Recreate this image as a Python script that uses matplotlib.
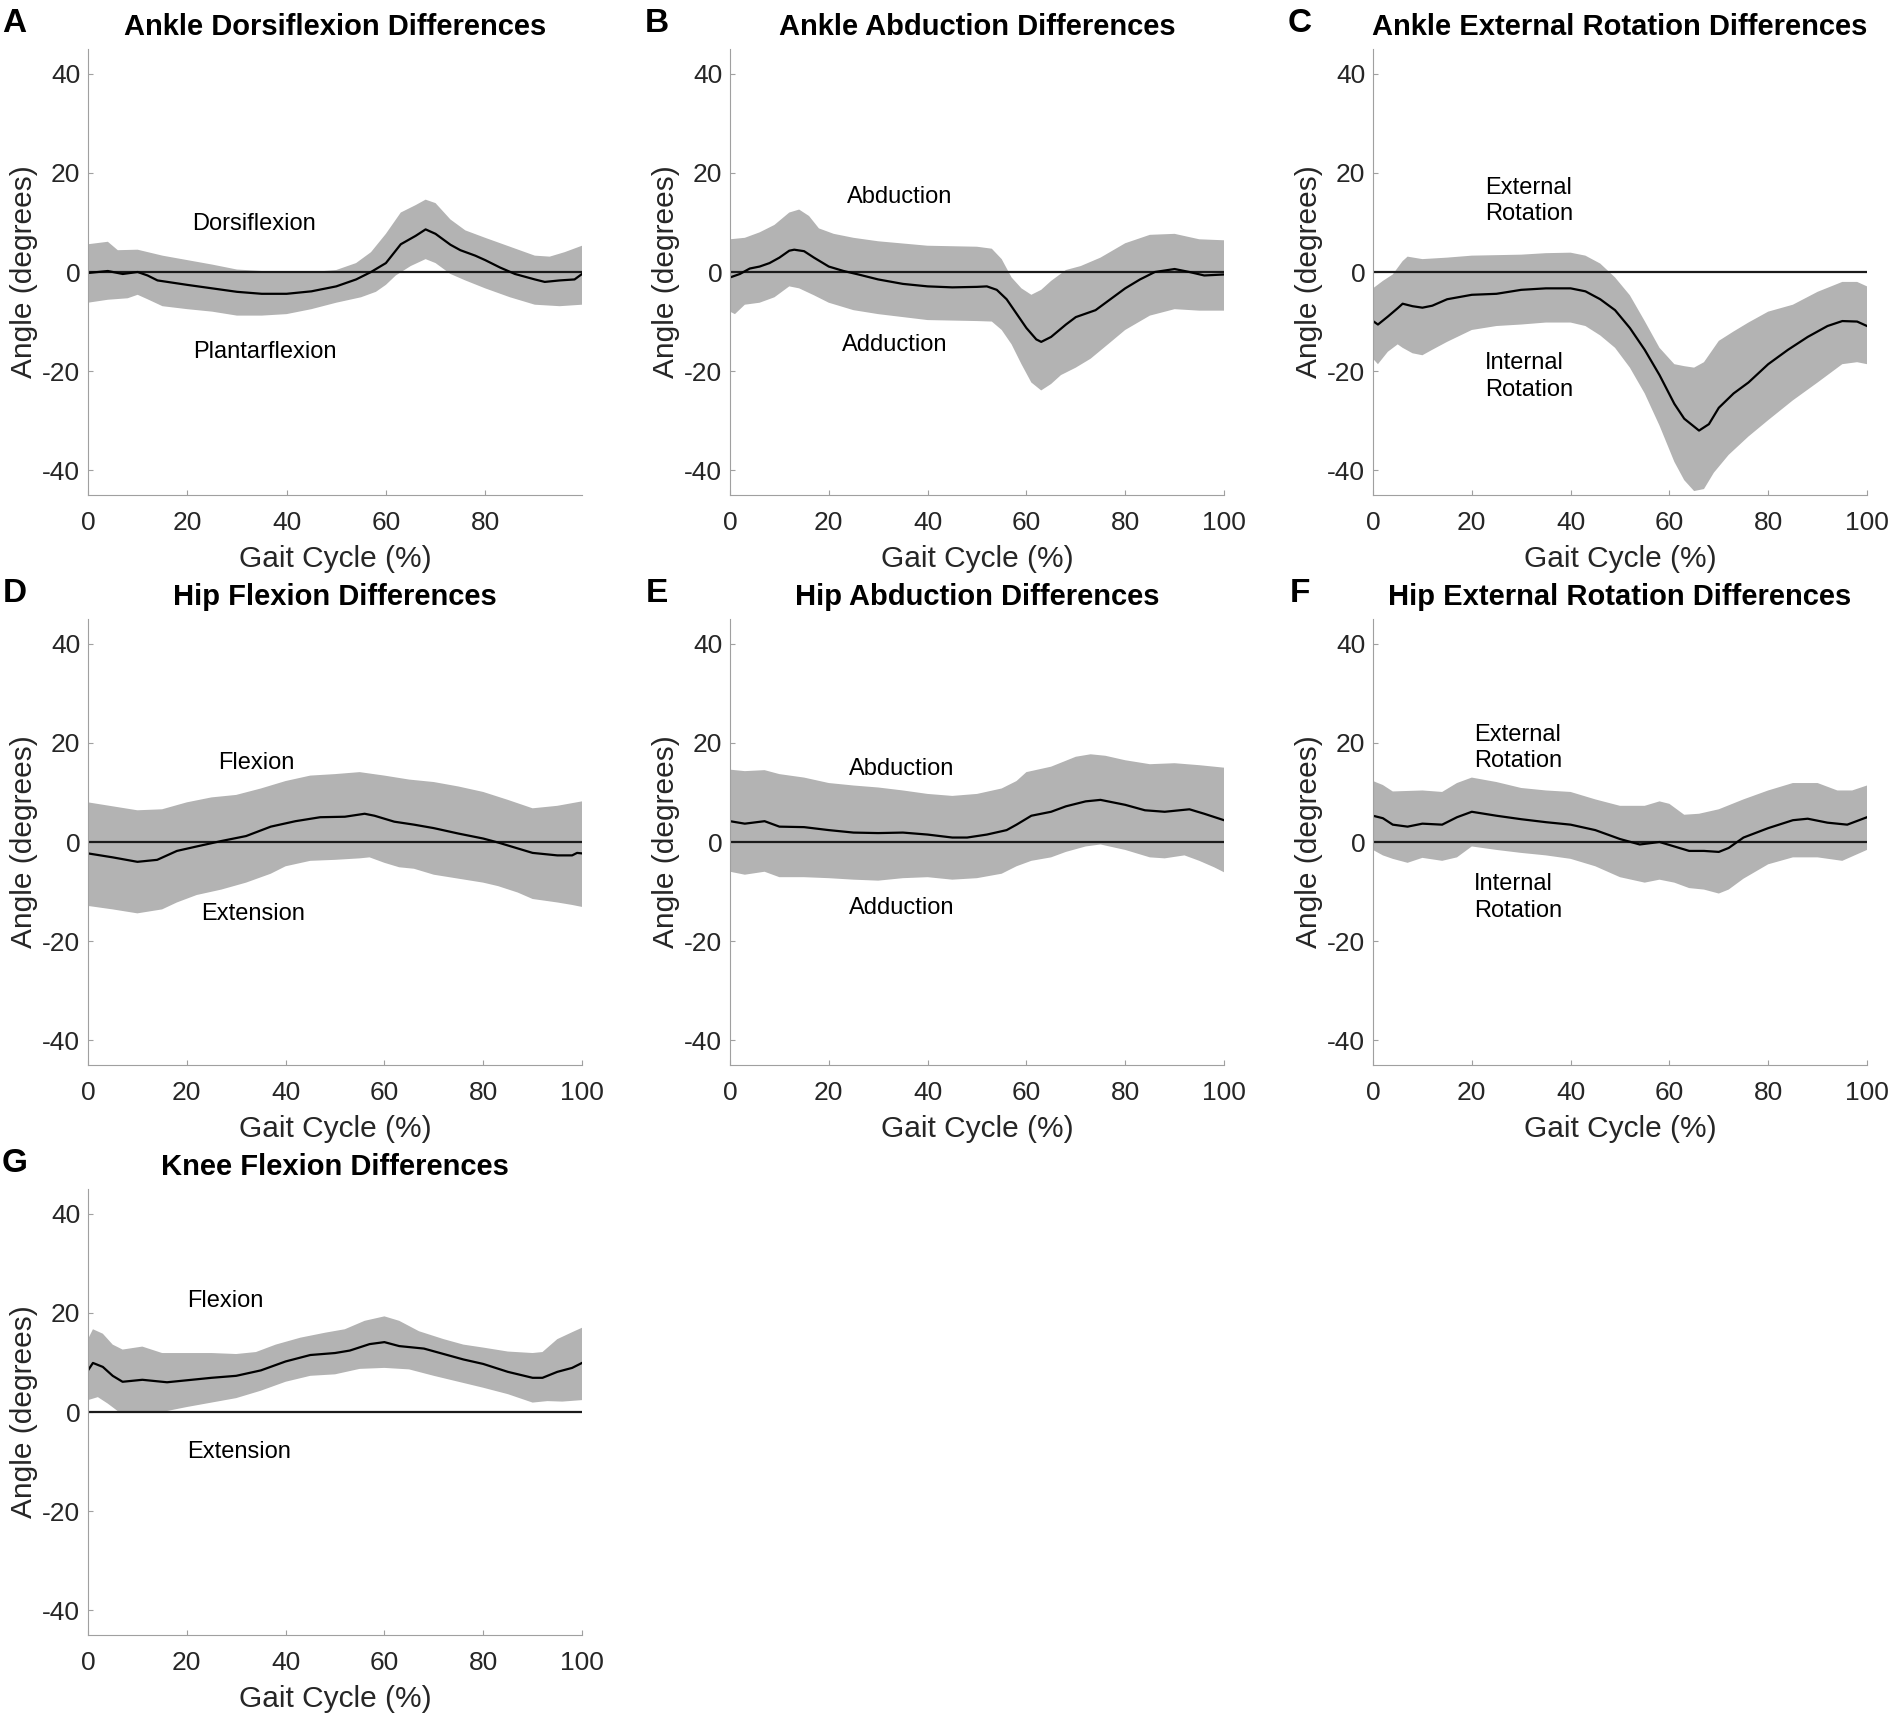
import matplotlib
matplotlib.use("Agg")
import matplotlib.pyplot as plt
import numpy as np

plt.rcParams['font.family'] = ['Liberation Sans', 'DejaVu Sans']
plt.rcParams['axes.unicode_minus'] = False

W, H = 1895, 1718

# ---- data (gait cycle %, degrees) ----
# A  ankle dorsiflexion
a_mean_x = [0, 4, 7, 10, 12, 14, 20, 25, 30, 35, 40, 45, 50, 54, 57, 60, 63, 66, 68, 70, 73, 75, 78, 80, 83, 86, 90, 92, 95, 98, 99.5]
a_mean_y = [-0.2, 0.2, -0.4, 0, -0.7, -1.7, -2.6, -3.3, -4.0, -4.4, -4.4, -3.9, -2.9, -1.5, 0, 1.8, 5.6, 7.3, 8.6, 7.7, 5.5, 4.4, 3.3, 2.4, 0.9, -0.4, -1.5, -2.0, -1.7, -1.5, -0.4]
a_up_x = [0, 4, 6, 10, 15, 20, 25, 30, 35, 40, 45, 50, 54, 57, 60, 63, 66, 68, 70, 73, 76, 80, 85, 90, 93, 96, 99.5]
a_up_y = [5.6, 6.1, 4.4, 4.5, 3.3, 2.4, 1.5, 0.5, 0.2, 0, 0, 0.4, 1.8, 4.0, 7.7, 12.0, 13.5, 14.6, 13.9, 10.6, 8.4, 6.9, 5.1, 3.3, 3.1, 4.0, 5.3]
a_lo_x = [0, 4, 8, 10, 12, 15, 20, 25, 30, 35, 40, 45, 50, 55, 58, 60, 62, 65, 68, 70, 73, 76, 80, 85, 90, 95, 99.5]
a_lo_y = [-6.2, -5.6, -5.3, -4.6, -5.5, -6.9, -7.5, -8.0, -8.8, -8.8, -8.5, -7.5, -6.2, -5.1, -4.0, -2.6, -0.7, 1.2, 2.6, 1.8, -0.4, -1.7, -3.3, -5.1, -6.6, -6.9, -6.6]

# B  ankle abduction
b_mean_x = [0, 2, 4, 6, 8, 10, 12, 13, 15, 17, 20, 23, 26, 30, 35, 40, 45, 50, 52, 54, 56, 58, 60, 62, 63, 65, 68, 70, 74, 77, 80, 83, 86, 90, 93, 96, 100]
b_mean_y = [-1.1, -0.4, 0.7, 1.1, 1.8, 2.9, 4.3, 4.5, 4.2, 2.9, 1.1, 0.2, -0.5, -1.5, -2.4, -2.9, -3.1, -3.0, -2.9, -3.6, -5.5, -8.4, -11.3, -13.6, -14.1, -13.1, -10.6, -9.1, -7.7, -5.5, -3.3, -1.5, 0, 0.6, 0, -0.7, -0.5]
b_up_x = [0, 3, 6, 9, 12, 14, 16, 18, 21, 25, 30, 40, 50, 53, 55, 57, 59, 61, 63, 65, 68, 71, 75, 80, 85, 90, 95, 100]
b_up_y = [6.6, 6.9, 8.0, 9.5, 12.0, 12.6, 11.3, 8.8, 7.7, 6.9, 6.2, 5.3, 5.1, 4.7, 2.6, -1.1, -3.3, -4.6, -3.6, -1.8, 0.4, 1.2, 2.9, 5.8, 7.5, 7.7, 6.6, 6.4]
b_lo_x = [0, 1, 3, 6, 9, 12, 14, 17, 20, 25, 30, 35, 40, 50, 53, 55, 57, 59, 61, 63, 65, 67, 70, 73, 77, 80, 85, 90, 95, 100]
b_lo_y = [-8.0, -8.5, -6.6, -6.2, -5.1, -2.9, -3.3, -4.7, -6.2, -7.7, -8.5, -9.1, -9.7, -9.9, -10.0, -11.7, -14.6, -18.6, -22.3, -23.9, -22.6, -20.8, -19.3, -17.5, -14.2, -11.7, -8.8, -7.5, -7.8, -7.8]

# C  ankle external rotation
c_mean_x = [0, 1, 3, 5, 6, 8, 10, 12, 15, 20, 25, 30, 35, 40, 43, 46, 49, 52, 55, 58, 61, 63, 66, 68, 70, 73, 76, 80, 84, 88, 92, 95, 98, 100]
c_mean_y = [-9.9, -10.6, -9.0, -7.3, -6.4, -6.9, -7.2, -6.8, -5.5, -4.6, -4.4, -3.6, -3.3, -3.3, -3.9, -5.5, -7.7, -11.3, -15.7, -20.8, -26.6, -29.6, -32.0, -30.7, -27.4, -24.5, -22.3, -18.6, -15.7, -13.1, -10.9, -9.9, -10.0, -10.9]
c_up_x = [0, 2, 4, 6, 7, 10, 15, 20, 30, 35, 40, 43, 46, 49, 52, 55, 58, 61, 63, 65, 67, 70, 73, 76, 80, 85, 90, 95, 98, 100]
c_up_y = [-3.3, -1.8, -0.5, 2.2, 3.1, 2.6, 2.9, 3.3, 3.5, 3.8, 3.9, 3.3, 1.7, -1.1, -4.7, -9.9, -15.3, -18.6, -19.0, -19.3, -18.2, -13.9, -12.0, -10.2, -8.0, -6.6, -4.0, -2.0, -2.0, -2.9]
c_lo_x = [0, 1, 3, 5, 6, 8, 10, 12, 15, 20, 25, 30, 35, 40, 43, 46, 49, 52, 55, 58, 61, 63, 65, 67, 69, 72, 76, 80, 85, 90, 95, 98, 100]
c_lo_y = [-17.5, -18.6, -16.1, -14.6, -15.3, -16.4, -16.8, -15.7, -14.1, -11.7, -10.9, -10.6, -10.2, -10.2, -10.9, -12.8, -15.3, -19.3, -24.5, -31.0, -38.3, -42.0, -44.2, -43.8, -40.5, -36.9, -33.2, -29.9, -25.9, -22.3, -18.6, -18.2, -18.6]

# D  hip flexion
d_mean_x = [0, 5, 10, 14, 18, 22, 27, 32, 37, 42, 47, 52, 56, 58, 62, 66, 70, 75, 80, 83, 86, 90, 95, 98, 99, 100]
d_mean_y = [-2.3, -3.1, -4.0, -3.6, -1.8, -0.9, 0.2, 1.2, 3.1, 4.2, 5.0, 5.1, 5.7, 5.3, 4.1, 3.5, 2.8, 1.7, 0.7, -0.1, -1.0, -2.2, -2.7, -2.7, -2.2, -2.3]
d_up_x = [0, 5, 10, 15, 20, 25, 30, 35, 40, 45, 50, 55, 60, 65, 70, 75, 80, 85, 90, 95, 100]
d_up_y = [8.0, 7.2, 6.4, 6.6, 8.0, 9.0, 9.5, 10.8, 12.3, 13.4, 13.7, 14.1, 13.4, 12.6, 12.1, 11.2, 10.1, 8.5, 6.8, 7.3, 8.2]
d_lo_x = [0, 5, 10, 15, 18, 22, 27, 32, 37, 40, 45, 50, 55, 57, 60, 63, 66, 70, 75, 80, 83, 87, 90, 95, 98, 100]
d_lo_y = [-12.9, -13.6, -14.4, -13.6, -12.2, -10.7, -9.6, -8.2, -6.4, -4.9, -3.8, -3.6, -3.3, -3.1, -4.2, -5.1, -5.4, -6.6, -7.4, -8.2, -8.9, -10.2, -11.5, -12.2, -12.7, -13.1]

# E  hip abduction
e_mean_x = [0, 3, 7, 10, 15, 20, 25, 30, 35, 40, 45, 48, 52, 56, 58, 61, 65, 68, 72, 75, 80, 84, 88, 93, 96, 100]
e_mean_y = [4.2, 3.7, 4.2, 3.1, 3.0, 2.4, 1.9, 1.8, 1.9, 1.5, 0.9, 0.9, 1.5, 2.4, 3.5, 5.3, 6.1, 7.2, 8.2, 8.5, 7.5, 6.4, 6.1, 6.6, 5.7, 4.4]
e_up_x = [0, 3, 7, 10, 15, 20, 25, 30, 35, 40, 45, 50, 55, 58, 60, 65, 70, 73, 76, 80, 85, 90, 95, 100]
e_up_y = [14.6, 14.3, 14.5, 13.7, 13.0, 11.9, 11.4, 11.0, 10.4, 9.7, 9.3, 9.7, 10.8, 12.3, 14.1, 15.2, 17.2, 17.7, 17.4, 16.5, 15.7, 15.9, 15.5, 15.0]
e_lo_x = [0, 3, 7, 10, 15, 20, 25, 30, 35, 40, 45, 50, 55, 58, 61, 65, 68, 72, 75, 80, 85, 88, 92, 95, 98, 100]
e_lo_y = [-6.0, -6.6, -6.0, -7.1, -7.1, -7.3, -7.6, -7.8, -7.3, -7.1, -7.6, -7.3, -6.4, -4.9, -3.8, -3.1, -2.0, -0.9, -0.5, -1.6, -3.1, -3.3, -2.7, -3.8, -5.1, -6.1]

# F  hip external rotation
f_mean_x = [0, 2, 4, 7, 10, 14, 17, 20, 25, 30, 35, 40, 45, 50, 54, 58, 61, 64, 67, 70, 72, 75, 80, 85, 88, 92, 96, 100]
f_mean_y = [5.3, 4.8, 3.5, 3.1, 3.7, 3.5, 5.0, 6.1, 5.3, 4.6, 4.0, 3.5, 2.4, 0.6, -0.5, 0, -0.9, -1.8, -1.8, -2.0, -1.2, 0.9, 2.8, 4.4, 4.7, 3.9, 3.5, 5.0]
f_up_x = [0, 2, 4, 10, 14, 17, 20, 25, 30, 35, 40, 45, 50, 55, 58, 60, 63, 66, 70, 75, 80, 85, 90, 94, 97, 100]
f_up_y = [12.3, 11.5, 10.2, 10.4, 10.1, 11.9, 13.0, 12.1, 10.9, 10.4, 10.1, 8.6, 7.3, 7.3, 8.2, 7.7, 5.5, 5.7, 6.6, 8.6, 10.4, 11.9, 11.9, 10.4, 10.4, 11.4]
f_lo_x = [0, 2, 4, 7, 10, 14, 17, 20, 25, 30, 35, 40, 45, 50, 55, 58, 61, 64, 67, 70, 72, 75, 80, 85, 90, 95, 100]
f_lo_y = [-1.6, -2.7, -3.4, -4.2, -3.2, -3.8, -3.1, -0.9, -1.6, -2.2, -2.7, -3.4, -4.9, -7.1, -8.2, -7.6, -8.2, -9.3, -9.6, -10.4, -9.6, -7.4, -4.5, -3.1, -3.1, -3.8, -1.6]

# G  knee flexion
g_mean_x = [0, 1, 3, 5, 7, 11, 16, 20, 25, 30, 35, 40, 45, 50, 53, 57, 60, 63, 68, 72, 76, 80, 85, 90, 92, 95, 98, 100]
g_mean_y = [8.4, 9.9, 9.1, 7.3, 6.1, 6.5, 6.0, 6.4, 6.9, 7.3, 8.4, 10.2, 11.5, 11.9, 12.4, 13.7, 14.1, 13.3, 12.8, 11.7, 10.6, 9.7, 8.1, 6.9, 6.9, 8.1, 8.9, 9.9]
g_up_x = [0, 1, 3, 5, 7, 11, 15, 20, 25, 30, 34, 38, 43, 48, 52, 56, 60, 63, 67, 72, 76, 80, 85, 90, 92, 95, 98, 100]
g_up_y = [14.7, 16.7, 15.8, 13.6, 12.6, 13.2, 11.9, 11.9, 11.9, 11.7, 12.1, 13.6, 15.0, 16.0, 16.7, 18.4, 19.3, 18.4, 16.3, 14.7, 13.6, 13.0, 12.2, 11.9, 12.1, 14.7, 16.1, 17.0]
g_lo_x = [0, 2, 4, 6, 8, 12, 16, 20, 25, 30, 35, 40, 45, 50, 55, 60, 65, 70, 75, 80, 85, 90, 93, 96, 100]
g_lo_y = [2.4, 3.0, 1.7, 0.2, -0.1, -0.1, 0.2, 1.0, 1.9, 2.8, 4.3, 6.1, 7.3, 7.6, 8.7, 8.9, 8.6, 7.3, 6.1, 4.9, 3.6, 1.9, 2.2, 2.1, 2.4]

letters = ['A', 'B', 'C', 'D', 'E', 'F', 'G']
titles = ['Ankle Dorsiflexion Differences', 'Ankle Abduction Differences',
          'Ankle External Rotation Differences', 'Hip Flexion Differences',
          'Hip Abduction Differences', 'Hip External Rotation Differences',
          'Knee Flexion Differences']
upper_words = ['Dorsiflexion', 'Abduction', 'External\nRotation', 'Flexion',
               'Abduction', 'External\nRotation', 'Flexion']
lower_words = ['Plantarflexion', 'Adduction', 'Internal\nRotation', 'Extension',
               'Adduction', 'Internal\nRotation', 'Extension']
upper_pos = [(20.9, 9.7), (23.6, 15.2), (22.6, 14.3), (26.3, 15.9), (24.0, 14.8), (20.4, 18.9), (20.0, 22.3)]
lower_pos = [(21.2, -16.1), (22.6, -14.8), (22.6, -21.1), (22.8, -14.6), (24.0, -13.3), (20.4, -11.2), (20.0, -8.1)]

means = [(a_mean_x, a_mean_y), (b_mean_x, b_mean_y), (c_mean_x, c_mean_y), (d_mean_x, d_mean_y),
         (e_mean_x, e_mean_y), (f_mean_x, f_mean_y), (g_mean_x, g_mean_y)]
uppers = [(a_up_x, a_up_y), (b_up_x, b_up_y), (c_up_x, c_up_y), (d_up_x, d_up_y),
          (e_up_x, e_up_y), (f_up_x, f_up_y), (g_up_x, g_up_y)]
lowers = [(a_lo_x, a_lo_y), (b_lo_x, b_lo_y), (c_lo_x, c_lo_y), (d_lo_x, d_lo_y),
          (e_lo_x, e_lo_y), (f_lo_x, f_lo_y), (g_lo_x, g_lo_y)]

# layout in pixels of the reference
col_left = [88, 730, 1373]
row_top = [49, 619, 1189]
ax_w, ax_h = 494, 446

fig = plt.figure(figsize=(W / 100, H / 100), dpi=100)

for i in range(7):
    r, c = divmod(i, 3)
    left, top = col_left[c], row_top[r]
    ax = fig.add_axes([left / W, 1 - (top + ax_h) / H, ax_w / W, ax_h / H])

    ux, uy = uppers[i]
    lx, ly = lowers[i]
    ax.fill(np.concatenate([ux, lx[::-1]]), np.concatenate([uy, ly[::-1]]),
            color='#b3b3b3', lw=0)
    ax.axhline(0, color='#1a1a1a', lw=1.6)
    mx, my = means[i]
    ax.plot(mx, my, color='black', lw=1.6)

    if i == 0:
        ax.set_xlim(0, 99.5)
        ax.set_xticks([0, 20, 40, 60, 80])
    else:
        ax.set_xlim(0, 100)
        ax.set_xticks([0, 20, 40, 60, 80, 100])
    ax.set_ylim(-45, 45)
    ax.set_yticks([-40, -20, 0, 20, 40])

    for s in ['top', 'right']:
        ax.spines[s].set_visible(False)
    for s in ['left', 'bottom']:
        ax.spines[s].set_color('#a0a0a0')
        ax.spines[s].set_linewidth(0.8)
    ax.tick_params(direction='in', length=3.5, width=0.8, color='#a0a0a0',
                   labelcolor='#262626', labelsize=19)
    ax.tick_params(axis='x', pad=11.5)
    ax.tick_params(axis='y', pad=5.5)

    ax.set_xlabel('Gait Cycle (%)', fontsize=21.5, color='#262626', labelpad=7)
    ax.set_ylabel('Angle (degrees)', fontsize=21.5, color='#262626', labelpad=3)
    ax.set_title(titles[i], fontsize=21, fontweight='bold', pad=10)

    ax.text(upper_pos[i][0], upper_pos[i][1], upper_words[i], fontsize=17,
            ha='left', va='center', linespacing=1.25)
    ax.text(lower_pos[i][0], lower_pos[i][1], lower_words[i], fontsize=17,
            ha='left', va='center', linespacing=1.25)

    fig.text((left - 73.5) / W, 1 - (top - 16.6) / H, letters[i],
             fontsize=24, fontweight='bold', ha='center', va='baseline')

fig.savefig('out.png', dpi=100)
